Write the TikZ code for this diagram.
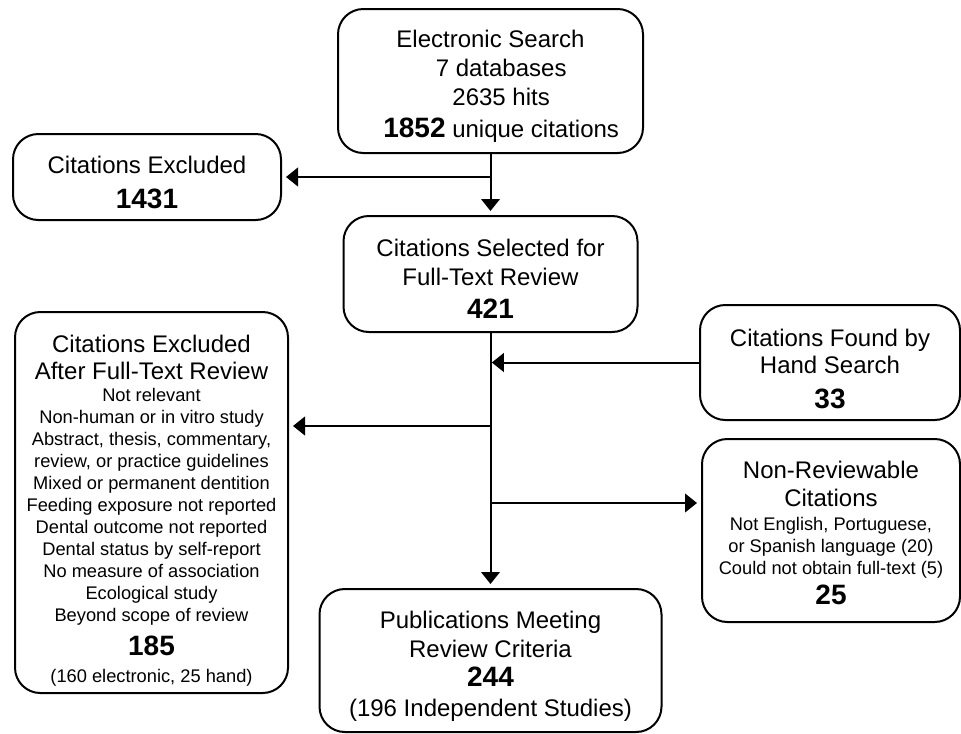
\documentclass[tikz,border=0pt]{standalone}
\usepackage{fontspec}
\setmainfont{Liberation Sans}
\usepackage{tikz}
\usetikzlibrary{arrows.meta, positioning}
\newcommand{\hitnum}[1]{{\fontsize{21}{22}\selectfont\bfseries #1}}
\newcommand{\reasons}{\fontsize{13.7}{16}\selectfont}
\newcommand{\lift}[1]{\rule{0pt}{#1}}

\begin{document}
\begin{tikzpicture}[x=0.75pt, y=-0.75pt,
    flowbox/.style={draw, line width=1.5pt, rounded corners=19pt, align=center, inner sep=0pt,
      font=\fontsize{18}{22}\selectfont},
    flowline/.style={line width=1.5pt},
    flowarrow/.style={line width=1.5pt, -{Triangle[length=9pt, width=14pt]}, shorten >=3pt}]
  \useasboundingbox (0,0) rectangle (961,733);
  % boxes
  \node[flowbox, minimum width=228.75pt, minimum height=108pt] (search) at (490.5,81)
    {\lift{21pt}Electronic Search\\ \hspace*{16pt}7 databases\\ \hspace*{16pt}2635 hits\\[2pt] \hspace*{16pt}\hitnum{1852} unique citations};
  \node[flowbox, minimum width=201pt, minimum height=64.5pt] (excl1) at (147,177)
    {\lift{21pt}Citations Excluded\\[4pt] \hitnum{1431}};
  \node[flowbox, minimum width=220.5pt, minimum height=87pt] (sel) at (490.5,274)
    {\lift{20pt}Citations Selected for\\ Full-Text Review\\[3pt] \hitnum{421}};
  \node[flowbox, minimum width=195pt, minimum height=86.25pt] (hand) at (830,362.5)
    {\lift{22pt}Citations Found by\\[-1.5pt] Hand Search\\[4pt] \hitnum{33}};
  \node[flowbox, minimum width=193.5pt, minimum height=137.25pt] (nonrev) at (831,530.5)
    {\lift{16pt}Non-Reviewable\\[-1pt] Citations\\[-4pt]
     {\reasons Not English, Portuguese,}\\[-5.5pt]
     {\reasons or Spanish language (20)}\\[-5.5pt]
     {\reasons Could not obtain full-text (5)}\\[0.5pt] \hitnum{25}};
  \node[flowbox, minimum width=204.75pt, minimum height=285.75pt] (excl2) at (151.5,502.5)
    {\lift{25pt}Citations Excluded\\[-1.5pt] After Full-Text Review\\[-5.5pt]
     {\reasons Not relevant}\\[-5.5pt]
     {\reasons Non-human or in vitro study}\\[-5.5pt]
     {\reasons Abstract, thesis, commentary,}\\[-5.5pt]
     {\reasons review, or practice guidelines}\\[-5.5pt]
     {\reasons Mixed or permanent dentition}\\[-5.5pt]
     {\reasons Feeding exposure not reported}\\[-5.5pt]
     {\reasons Dental outcome not reported}\\[-5.5pt]
     {\reasons Dental status by self-report}\\[-5.5pt]
     {\reasons No measure of association}\\[-5.5pt]
     {\reasons Ecological study}\\[-5.5pt]
     {\reasons Beyond scope of review}\\[3.5pt] \hitnum{185}\\[-1.75pt]
     {\reasons (160 electronic, 25 hand)}};
  \node[flowbox, minimum width=256.5pt, minimum height=107.25pt] (pub) at (490.5,660.5)
    {\lift{21pt}Publications Meeting\\ Review Criteria\\ \hitnum{244}\\ (196 Independent Studies)};
  % connectors
  \coordinate (toexcl) at (search.south |- excl1.east);
  \coordinate (fromhand) at (sel.south |- hand.west);
  \coordinate (toexcl2) at (490.5,426);
  \coordinate (tononrev) at (490.5,503);
  \draw[flowline] (search.south) -- (toexcl);
  \draw[flowarrow] (toexcl) -- (excl1.east);
  \draw[flowarrow] (toexcl) -- (sel.north);
  \draw[flowarrow] (sel.south) -- (pub.north);
  \draw[flowarrow, shorten >=1pt] (hand.west) -- (fromhand);
  \draw[flowarrow] (toexcl2) -- (toexcl2 -| excl2.east);
  \draw[flowarrow] (tononrev) -- (tononrev -| nonrev.west);
\end{tikzpicture}
\end{document}
